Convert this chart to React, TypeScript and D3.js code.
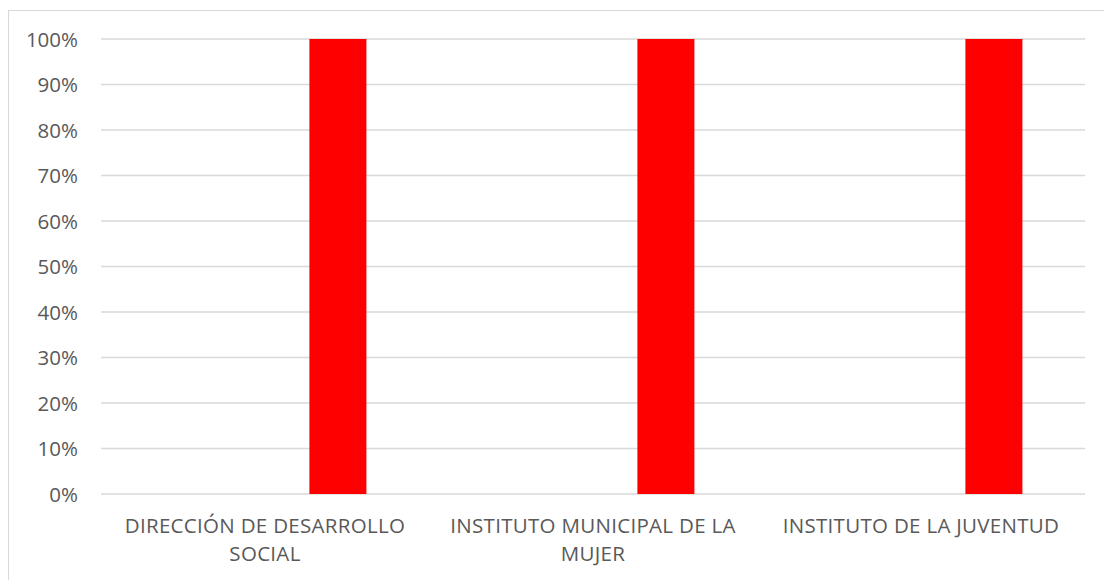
import React from "react";
import * as d3 from "d3";

const categories = [
  ["DIRECCIÓN DE DESARROLLO", "SOCIAL"],
  ["INSTITUTO MUNICIPAL DE LA", "MUJER"],
  ["INSTITUTO DE LA JUVENTUD"],
];
const values = [1, 1, 1];
const yTicks = [0, 0.1, 0.2, 0.3, 0.4, 0.5, 0.6, 0.7, 0.8, 0.9, 1];

const W = 1104;
const H = 580;
const plot = { left: 101, right: 1085, top: 39, bottom: 494 };
const FONT = "'Open Sans', sans-serif";
const TEXT = "#595959";
const GRID = "#d9d9d9";

export default function App() {
  const keys = categories.map((c) => c.join(" "));
  const x0 = d3.scaleBand<string>().domain(keys).range([plot.left, plot.right]).padding(0);
  const x1 = d3
    .scaleBand<string>()
    .domain(["v"])
    .range([0, x0.bandwidth()])
    .paddingInner(0)
    .paddingOuter(2.377)
    .align(0.769);
  const y = d3.scaleLinear().domain([0, 1]).range([plot.bottom, plot.top]);
  const fmt = d3.format(".0%");

  return (
    <svg width={W} height={H} style={{ position: "absolute", left: 0, top: 0 }}>
      <rect x={0} y={0} width={W} height={H} fill="#fff" />
      <rect x={8.5} y={10.5} width={W + 20} height={H + 20} fill="none" stroke={GRID} strokeWidth={1} />
      {yTicks.map((t) => (
        <g key={t}>
          <line x1={plot.left} x2={plot.right} y1={y(t)} y2={y(t)} stroke={GRID} strokeWidth={1.3} />
          <text
            x={78}
            y={y(t)}
            dy="0.37em"
            textAnchor="end"
            fontFamily={FONT}
            fontSize={20.5}
            fill={TEXT}
          >
            {fmt(t)}
          </text>
        </g>
      ))}
      {keys.map((k, i) => (
        <rect
          key={k}
          x={(x0(k) ?? 0) + (x1("v") ?? 0)}
          y={y(values[i])}
          width={x1.bandwidth()}
          height={y(0) - y(values[i])}
          fill="#ff0000"
        />
      ))}
      {categories.map((lines, i) => {
        const k = keys[i];
        const cx = (x0(k) ?? 0) + x0.bandwidth() / 2;
        return (
          <text key={k} textAnchor="middle" fontFamily={FONT} fontSize={20.5} letterSpacing={0.3} fill={TEXT}>
            {lines.map((l, j) => (
              <tspan key={j} x={cx} y={plot.bottom + 38.7 + j * 28}>
                {l}
              </tspan>
            ))}
          </text>
        );
      })}
    </svg>
  );
}
